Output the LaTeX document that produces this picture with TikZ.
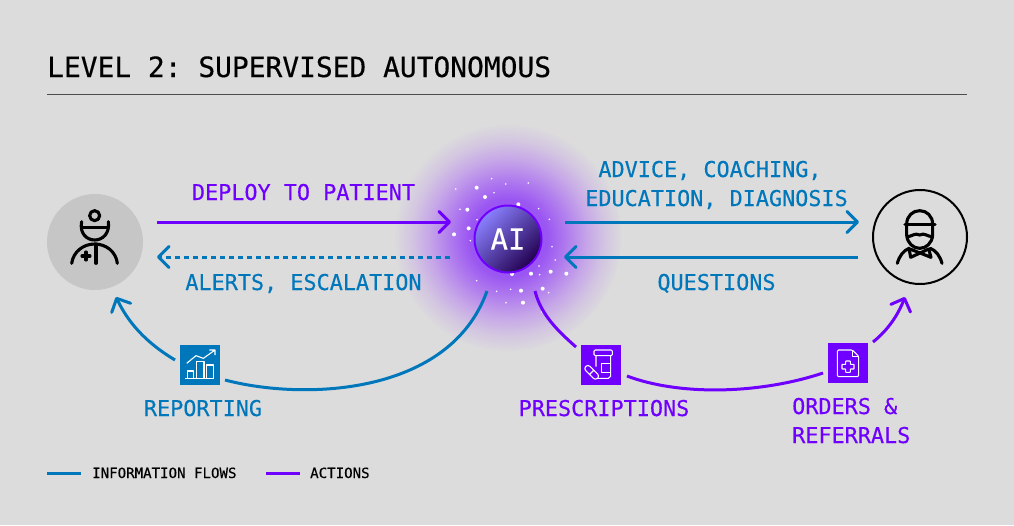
\documentclass[tikz,border=0pt]{standalone}
\usepackage{fontspec}
\setmonofont[FakeBold=0.35]{DejaVu Sans Mono}
\usetikzlibrary{arrows.meta}
\definecolor{bgc}{HTML}{DCDCDC}
\definecolor{docc}{HTML}{C6C6C6}
\definecolor{infoc}{HTML}{0077BB}
\definecolor{actc}{HTML}{6F00FF}
\definecolor{gA}{HTML}{9A55F2}
\definecolor{gB}{HTML}{AE78EE}
\definecolor{gC}{HTML}{C6A6E8}
\definecolor{gD}{HTML}{D3C6E1}
\definecolor{aiT}{HTML}{8A80FF}
\definecolor{aiM}{HTML}{420A96}
\definecolor{aiB}{HTML}{22004F}
\pgfdeclareradialshading{glowshade}{\pgfpoint{0bp}{0bp}}{%
 color(0bp)=(gA); color(8.5bp)=(gA); color(12.5bp)=(gB); color(17.5bp)=(gC); color(21.5bp)=(gD); color(25.5bp)=(bgc); color(50bp)=(bgc)}
\tikzset{
 flow/.style={line width=3pt,line cap=butt},
 infoline/.style={flow,draw=infoc},
 actline/.style={flow,draw=actc},
 barb/.style={-{Straight Barb[length=10.5pt,width=21pt,line width=3pt,round]}},
 lbl/.style={font=\ttfamily\fontsize{21.8}{24}\selectfont,anchor=base,inner sep=0pt},
 lgd/.style={font=\ttfamily\fontsize{14.1}{16}\selectfont,anchor=base west,inner sep=0pt,text=black},
 iconbox/.style={minimum size=40pt,inner sep=0pt},
 ico/.style={draw=white,line width=1.1pt,line join=round},
 ppl/.style={draw=black,line width=3.1pt,line cap=round,line join=round},
}
\begin{document}
\begin{tikzpicture}[x=1pt,y=-1pt]
\useasboundingbox (0,0) rectangle (1014,525);
\fill[bgc] (0,0) rectangle (1014,525);
% title
\node[font=\ttfamily\fontsize{27.9}{30}\selectfont,anchor=base west,inner sep=0pt] (title) at (47,77) {LEVEL 2: SUPERVISED AUTONOMOUS};
\coordinate (ruleL) at (47,94); \coordinate (ruleR) at (967,94);
\draw[draw=black!70,line width=1pt] (ruleL) -- (ruleR);
% glow
\shade[shading=glowshade] (508,238) circle (113);
% sparkles
\foreach \x/\y in {260/203,285/231,232/269,236/325,192/343,385/253,423/461,482/455,529/461,458/506,393/512,399/548,366/462}
  \fill[white] ({390+\x/3},{120+\y/3}) circle (2);
\foreach \x/\y in {197/207,305/176,347/192,415/189,312/218,210/268,261/299,446/266,478/298,241/362,486/380,496/420,447/438,449/464,260/482,320/514,362/508,476/518,348/548,455/576}
  \fill[white] ({390+\x/3},{120+\y/3}) circle (.9);
% main nodes
\node[circle,fill=docc,minimum size=96pt,inner sep=0pt] (doc) at (95,242) {};
\node[circle,draw=black,line width=2pt,minimum size=94pt,inner sep=0pt] (pat) at (920,237) {};
\node[circle,draw=actc,line width=2pt,minimum size=67pt,inner sep=0pt,
  top color=aiT,middle color=aiM,bottom color=aiB,shading angle=45,text=white,
  font=\ttfamily\fontsize{29}{30}\selectfont] (ai) at (508,239) {AI};
\node[iconbox,fill=infoc] (rep) at (200,365) {};
\node[iconbox,fill=actc] (rx) at (601,365) {};
\node[iconbox,fill=actc] (ord) at (848,363) {};
% doctor icon
\begin{scope}[shift={(30,180)},scale=1/3]
 \draw[ppl] (194,107) circle (15);
 \draw[ppl] (155,125) .. controls (148,160) and (170,180) .. (194,180) .. controls (218,180) and (240,160) .. (235,125);
 \draw[ppl] (155,143) -- (235,143);
 \draw[ppl] (125,250) .. controls (130,215) and (160,192) .. (194,192) .. controls (228,192) and (258,215) .. (262,250);
 \draw[ppl] (198,192) -- (198,250);
 \draw[ppl] (168,216) -- (168,240) (156,228) -- (180,228);
\end{scope}
% patient icon
\begin{scope}[shift={(860,180)},scale=1/3]
 \draw[ppl] (140,133) .. controls (140,108) and (158,92) .. (179,92) .. controls (200,92) and (218,108) .. (218,133);
 \draw[ppl] (135,133) -- (225,133);
 \draw[ppl] (140,133) -- (140,165) .. controls (142,190) and (160,205) .. (179,205) .. controls (198,205) and (216,190) .. (218,165) -- (218,133);
 \draw[ppl] (142,170) .. controls (155,170) and (165,157) .. (179,165) .. controls (193,157) and (203,170) .. (216,170);
 \draw[ppl] (112,250) .. controls (118,228) and (130,212) .. (147,205) -- (152,232) -- (206,207) -- (213,232) -- (150,207);
 \draw[ppl] (211,205) .. controls (228,212) and (240,228) .. (246,250);
\end{scope}
% reporting icon
\begin{scope}[shift={(170,335)},scale=1/3]
 \draw[ico] (45,130) -- (133,130);
 \draw[ico] (53,130) -- (53,108) -- (70,108) -- (70,130);
 \draw[ico] (80,130) -- (80,80) -- (102,80) -- (102,130);
 \draw[ico] (110,130) -- (110,90) -- (130,90) -- (130,130);
 \draw[ico] (50,85) -- (78,62) -- (100,70) -- (135,45) (118,45) -- (135,45) -- (135,60);
\end{scope}
% prescriptions icon
\begin{scope}[shift={(570,335)},scale=1/3]
 \draw[ico,rounded corners=1.2] (72,45) rectangle (127,62);
 \draw[ico] (78,62) -- (78,95) (78,125) -- (85,130) -- (115,130) -- (122,124) -- (122,62);
 \draw[ico] (122,85) -- (95,85) -- (95,112) -- (122,112);
 \begin{scope}[shift={(65,112)},rotate=-45]
  \draw[ico,fill=actc,rounded corners=2.8] (-25,-9) rectangle (25,9);
  \draw[ico] (0,-9) -- (0,9);
 \end{scope}
\end{scope}
% orders icon
\begin{scope}[shift={(818,335)},scale=1/3]
 \draw[ico,rounded corners=1.2] (58,45) -- (103,45) -- (122,64) -- (122,125) -- (58,125) -- cycle;
 \draw[ico] (103,45) -- (103,64) -- (122,64);
 \draw[ico,rounded corners=.5] (83,78) -- (97,78) -- (97,88) -- (108,88) -- (108,102) -- (97,102) -- (97,112) -- (83,112) -- (83,102) -- (72,102) -- (72,88) -- (83,88) -- cycle;
\end{scope}
% connector ends
\coordinate (dA) at (157,222); \coordinate (aA) at (451,222);
\coordinate (aB) at (450,257); \coordinate (dB) at (157,257);
\coordinate (aC) at (565,222); \coordinate (pC) at (859,222);
\coordinate (pD) at (858,257); \coordinate (aD) at (564,257);
\coordinate (aE) at (487,291); \coordinate (rE) at (225,380);
\coordinate (rF) at (175,360); \coordinate (dF) at (116,297);
\coordinate (aG) at (535,291); \coordinate (xG) at (576,347);
\coordinate (xH) at (627,376); \coordinate (oH) at (823,373);
\coordinate (oI) at (873,342); \coordinate (pI) at (905,297);
\draw[actline,barb] (dA) -- (aA);
\draw[infoline,barb,dash pattern=on 5pt off 4pt] (aB) -- (dB);
\draw[infoline,barb] (aC) -- (pC);
\draw[infoline,barb] (pD) -- (aD);
\draw[infoline] (rE) .. controls (305,401) and (450,395) .. (aE);
\draw[infoline,barb] (rF) .. controls (145,342) and (128,322) .. (dF);
\draw[actline] (aG) .. controls (541,315) and (558,331) .. (xG);
\draw[actline] (xH) .. controls (680,396) and (760,394) .. (oH);
\draw[actline,barb] (oI) .. controls (888,330) and (898,315) .. (pI);
% labels
\node[lbl,text=actc] (l1) at (303.5,200) {DEPLOY TO PATIENT};
\node[lbl,text=infoc] (l2) at (710,177) {ADVICE, COACHING,};
\node[lbl,text=infoc] (l3) at (716.5,206) {EDUCATION, DIAGNOSIS};
\node[lbl,text=infoc] (l4) at (303.5,290) {ALERTS, ESCALATION};
\node[lbl,text=infoc] (l5) at (716.5,290) {QUESTIONS};
\node[lbl,text=infoc] (l6) at (203,416) {REPORTING};
\node[lbl,text=actc] (l7) at (604,416) {PRESCRIPTIONS};
\node[lbl,text=actc,anchor=base west] (l8) at (792,414) {ORDERS \&};
\node[lbl,text=actc,anchor=base west] (l9) at (792,443) {REFERRALS};
% legend
\coordinate (k1a) at (47,473); \coordinate (k1b) at (81,473);
\coordinate (k2a) at (266,473); \coordinate (k2b) at (300,473);
\draw[infoline] (k1a) -- (k1b);
\draw[actline] (k2a) -- (k2b);
\node[lgd] (k1) at (92,478) {INFORMATION FLOWS};
\node[lgd] (k2) at (310,478) {ACTIONS};
\end{tikzpicture}
\end{document}
